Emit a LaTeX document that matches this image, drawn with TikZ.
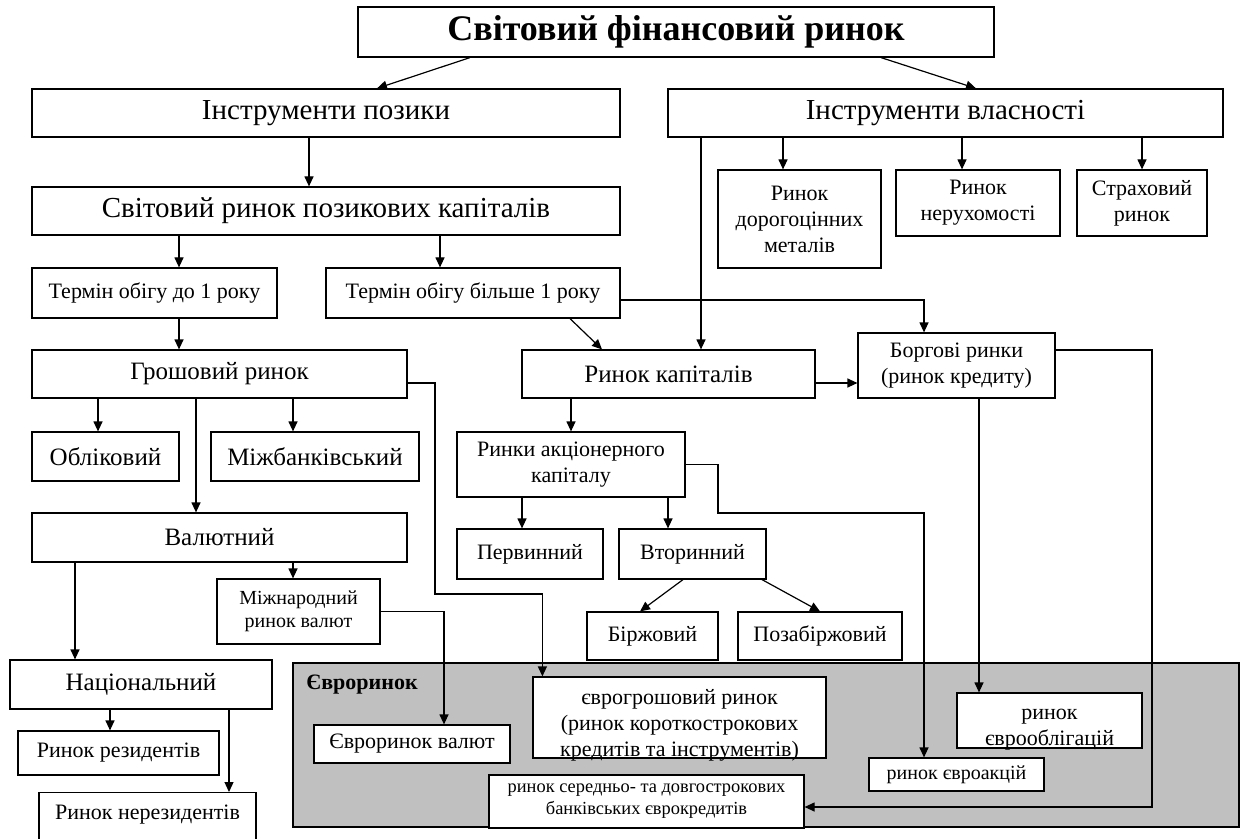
\documentclass[tikz,border=0pt]{standalone}
\usepackage{fontspec}
\setmainfont{Liberation Serif}
\usetikzlibrary{arrows.meta}
\definecolor{eurogray}{RGB}{192,192,192}

\begin{document}
\begin{tikzpicture}[x=0.5pt, y=-0.5pt, >={Triangle[length=5pt,width=4.5pt]},
  box/.style={draw, line width=0.6pt, fill=white, align=center, inner sep=1pt},
  sz/.style 2 args={minimum width=#1*0.5pt, minimum height=#2*0.5pt},
  ttl/.style={font=\fontsize{18}{20}\selectfont\bfseries},
  big/.style={font=\fontsize{14.5}{17}\selectfont},
  mid/.style={font=\fontsize{12.5}{14.5}\selectfont},
  nrm/.style={font=\fontsize{11}{13}\selectfont},
  sml/.style={font=\fontsize{10}{11.5}\selectfont},
  tny/.style={font=\fontsize{9.2}{11}\selectfont},
  conn/.style={line width=0.6pt, ->}]
\path[use as bounding box, clip] (0,0) rectangle (1240,839);
\node[draw, line width=0.6pt, fill=eurogray, sz={946}{164}] (eurobg) at (766,745) {};
\node[font=\fontsize{11}{13}\selectfont\bfseries, anchor=west, inner sep=0pt] (eurlab) at (306,685) {Євроринок};
\node[box, ttl, sz={636}{50}] (top) at (676,32) {Світовий фінансовий ринок};
\node[box, big, sz={588}{48}] (ip) at (326,113) {Інструменти позики};
\node[box, big, sz={555}{48}] (iv) at (945.5,113) {Інструменти власності};
\node[box, big, sz={588}{48}] (srpk) at (326,211) {Світовий ринок позикових капіталів};
\node[box, nrm, sz={245}{50}] (t1) at (154.5,293) {Термін обігу до 1 року};
\node[box, nrm, sz={294}{50}] (t2) at (473,293) {Термін обігу більше 1 року};
\node[box, nrm, sz={163}{98}] (met) at (799.5,219) {Ринок\\дорогоцінних\\металів};
\node[box, nrm, sz={164}{66}] (ner) at (978,203) {Ринок\\нерухомості};
\node[box, nrm, sz={130}{66}] (str) at (1142,203) {Страховий\\ринок};
\node[box, mid, sz={375}{48}] (gr) at (219.5,374) {Грошовий ринок};
\node[box, mid, sz={293}{48}] (rk) at (668.5,374) {Ринок капіталів};
\node[box, nrm, sz={197}{65}] (bor) at (956.5,365.5) {Боргові ринки\\(ринок кредиту)};
\node[box, mid, sz={147}{49}] (obl) at (105.5,456.5) {Обліковий};
\node[box, mid, sz={208}{49}] (mzb) at (315,456.5) {Міжбанківський};
\node[box, nrm, sz={228}{65}] (rak) at (571,464.5) {Ринки акціонерного\\капіталу};
\node[box, mid, sz={375}{49}] (val) at (219.5,537.5) {Валютний};
\node[box, nrm, sz={146}{50}] (per) at (530,554) {Первинний};
\node[box, nrm, sz={147}{50}] (vtr) at (692.5,554) {Вторинний};
\node[box, sml, sz={163}{65}] (mnv) at (298.5,611.5) {Міжнародний\\ринок валют};
\node[box, nrm, sz={131}{48}] (brz) at (652.5,636) {Біржовий};
\node[box, nrm, sz={164}{48}] (pzb) at (820,636) {Позабіржовий};
\node[box, mid, sz={262}{49}] (nac) at (141,684.5) {Національний};
\node[box, nrm, sz={201}{44}] (rrez) at (118.5,753) {Ринок резидентів};
\node[box, nrm, sz={217}{0}, anchor=north, inner ysep=6pt, text depth=10pt] (rnrez) at (147.5,792) {Ринок нерезидентів};
\node[box, nrm, sz={196}{38}] (ev) at (412,744) {Євроринок валют};
\node[box, nrm, sz={293}{81}, text height=38.5pt, text depth=0pt] (egr) at (679.5,717.5) {єврогрошовий ринок\\(ринок короткострокових\\кредитів та інструментів)};
\node[box, nrm, sz={185}{55}, text height=24.5pt, text depth=0pt] (eob) at (1049.5,720.5) {ринок\\єврооблігацій};
\node[box, sml, sz={175}{33}] (eak) at (956.5,774.5) {ринок євроакцій};
\node[box, tny, sz={315}{53}] (esd) at (646.5,801.5) {ринок середньо- та довгострокових\\банківських єврокредитів};
\coordinate (gbend) at (435,594);
\coordinate (rbend) at (718,513);
\coordinate (bbend) at (1152,807);
% top levels
\draw[conn] ([xshift=-103pt]top.south) -- ([xshift=25.5pt]ip.north);
\draw[conn] ([xshift=102.5pt]top.south) -- ([xshift=15.25pt]iv.north);
\draw[conn] ([xshift=-8.5pt]ip.south) -- ([xshift=-8.5pt]ip.south |- srpk.north);
\draw[conn] ([xshift=12.25pt]t1.north |- srpk.south) -- ([xshift=12.25pt]t1.north);
\draw[conn] ([xshift=-16.5pt]t2.north |- srpk.south) -- ([xshift=-16.5pt]t2.north);
\draw[conn] ([xshift=12.25pt]t1.south) -- ([xshift=12.25pt]t1.south |- gr.north);
\draw[conn] ([xshift=48.5pt]t2.south) -- ([xshift=-33.25pt]rk.north);
\draw[conn] ([yshift=-3.5pt]t2.east) -| ([xshift=-16.25pt]bor.north);
\draw[conn] ([xshift=16.25pt]rk.north |- iv.south) -- ([xshift=16.25pt]rk.north);
\foreach \n/\s in {met/-8.25pt, ner/-8pt, str/0pt}
  \draw[conn] ([xshift=\s]\n.north |- iv.south) -- ([xshift=\s]\n.north);
% capital and debt markets
\draw[conn] ([yshift=-4.5pt]rk.east) -- ([yshift=-4.5pt]rk.east -| bor.west);
\draw[conn] ([yshift=7.75pt]bor.east) -| (bbend) -- ([yshift=-2.75pt]esd.east);
\draw[conn] ([xshift=-35.25pt]eob.north |- bor.south) -- ([xshift=-35.25pt]eob.north);
\draw[conn] (rak.north |- rk.south) -- (rak.north);
\foreach \n/\s in {per/-4pt, vtr/-12.25pt}
  \draw[conn] ([xshift=\s]\n.north |- rak.south) -- ([xshift=\s]\n.north);
\draw[conn] (rak.east) -| (rbend) -| ([xshift=-16.25pt]eak.north);
\draw[conn] ([xshift=-4.75pt]vtr.south) -- ([xshift=-6.25pt]brz.north);
\draw[conn] ([xshift=34.75pt]vtr.south) -- (pzb.north);
% money market
\foreach \n/\s in {obl/-3.75pt, mzb/-11pt, val/-11.75pt}
  \draw[conn] ([xshift=\s]\n.north |- gr.south) -- ([xshift=\s]\n.north);
\draw[conn] ([yshift=-4.5pt]gr.east) -| (gbend) -| ([xshift=5pt]egr.north west);
\draw[conn] ([xshift=-33pt]nac.north |- val.south) -- ([xshift=-33pt]nac.north);
\draw[conn] ([xshift=-2.75pt]mnv.north |- val.south) -- ([xshift=-2.75pt]mnv.north);
\draw[conn] (mnv.east) -| ([xshift=16pt]ev.north);
\draw[conn] ([xshift=-4.25pt]rrez.north |- nac.south) -- ([xshift=-4.25pt]rrez.north);
\draw[conn] ([xshift=40.75pt]rnrez.north |- nac.south) -- ([xshift=40.75pt]rnrez.north);
\end{tikzpicture}
\end{document}
